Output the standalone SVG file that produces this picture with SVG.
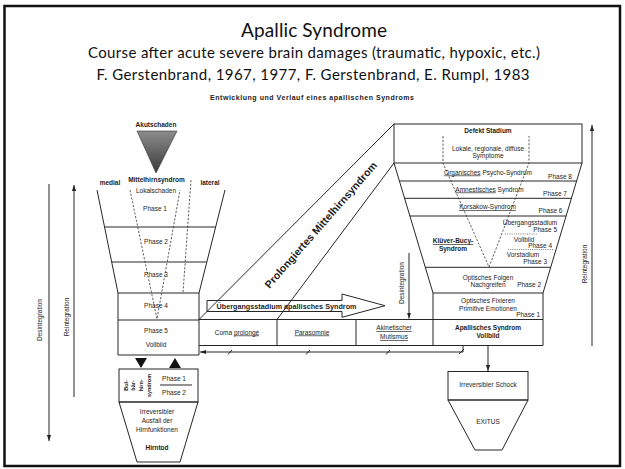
<svg xmlns="http://www.w3.org/2000/svg" width="625" height="469" viewBox="0 0 625 469">
<defs>
<style>
text{font-family:"Liberation Sans",Arial,sans-serif;fill:#1c1c1c;font-size:6.5px;text-anchor:middle}
.hd{font-family:Lato,"Liberation Sans",sans-serif;fill:#111}
.t1{font-size:19px}
.t2{font-size:15px}
.sm{font-size:5.5px}
.b{font-weight:bold}
.e{text-anchor:end}
.ln{stroke:#262626;stroke-width:1;fill:none}
.dsh{stroke:#333;stroke-width:0.8;stroke-dasharray:2.2 1.6;fill:none}
.dot{stroke:#444;stroke-width:0.7;stroke-dasharray:1 1.2;fill:none}
.u{text-decoration:underline}
</style>
<linearGradient id="tri" x1="0" y1="0" x2="0" y2="1">
<stop offset="0" stop-color="#8c8c8c"/><stop offset="1" stop-color="#3a3a3a"/>
</linearGradient>
<marker id="ah" viewBox="0 0 10 10" refX="10" refY="5" markerWidth="6" markerHeight="6" markerUnits="userSpaceOnUse" orient="auto">
<path d="M0,1.5L10,5L0,8.5z" fill="#222"/>
</marker>
</defs>
<rect width="625" height="469" fill="#fff"/>
<g id="frame"><rect x="4.5" y="6" width="615.5" height="460" fill="none" stroke="#111" stroke-width="2.5"/></g>

<g id="title">
<text class="hd t1" x="314" y="37" textLength="146">Apallic Syndrome</text>
<text class="hd t2" x="314" y="58" textLength="452">Course after acute severe brain damages (traumatic, hypoxic, etc.)</text>
<text class="hd t2" x="313" y="80" textLength="433">F. Gerstenbrand, 1967, 1977, F. Gerstenbrand, E. Rumpl, 1983</text>
<text class="b" x="312" y="100" style="font-size:7px" textLength="204">Entwicklung und Verlauf eines apallischen Syndroms</text>
</g>

<g id="left-scale">
<line class="ln" x1="49" y1="184" x2="49" y2="441" marker-end="url(#ah)"/>
<line class="ln" x1="74" y1="397" x2="74" y2="185" marker-end="url(#ah)"/>
<text transform="translate(42.3,320) rotate(-90)">Desintegration</text>
<text transform="translate(69.3,317) rotate(-90)">Reintegration</text>
</g>

<g id="akutschaden">
<text class="b" x="156" y="127">Akutschaden</text>
<polygon points="137,131 177,131 156,173" fill="url(#tri)" stroke="#333" stroke-width="0.6"/>
</g>

<g id="left-funnel">
<polyline class="ln" points="97,190 118,293 118,355 199,355 199,293 225,190"/>
<line class="ln" x1="104.5" y1="227" x2="215.7" y2="227"/>
<line class="ln" x1="111.7" y1="262" x2="206.8" y2="262"/>
<line class="ln" x1="118" y1="293" x2="199" y2="293"/>
<line class="ln" x1="118" y1="320" x2="199" y2="320"/>
<polyline class="dsh" points="130,190 157,319 180,190"/>
<line class="dsh" x1="191" y1="180" x2="183" y2="293"/>
<text class="b" x="156.5" y="181.5">Mittelhirnsyndrom</text>
<text class="b" x="110" y="185">medial</text>
<text class="b" x="210" y="185">lateral</text>
<text x="156" y="193">Lokalschaden</text>
<text x="155" y="210.5">Phase 1</text>
<text x="156" y="244">Phase 2</text>
<text x="156" y="277">Phase 3</text>
<text x="156" y="308">Phase 4</text>
<text x="156" y="332.5">Phase 5</text>
<text x="156" y="347">Vollbild</text>
</g>

<g id="transition-arrows">
<polygon points="135,358 147,358 141,368" fill="#111"/>
<polygon points="169,368 181,368 175,358" fill="#111"/>
</g>

<g id="bulbaerhirnsyndrom">
<rect class="ln" x="119" y="369" width="79" height="33"/>
<text class="b sm" transform="translate(127.5,385.5) rotate(-90)">Bul-</text>
<text class="b sm" transform="translate(134.5,385.5) rotate(-90)">bär-</text>
<text class="b sm" transform="translate(143,385.5) rotate(-90)">hirn-</text>
<text class="b sm" transform="translate(150.5,385.5) rotate(-90)">syndrom</text>
<text x="174" y="381">Phase 1</text>
<line class="ln" x1="160" y1="385" x2="192" y2="385" stroke-width="0.7"/>
<text x="174" y="395">Phase 2</text>
</g>

<g id="hirntod">
<polygon class="ln" points="119,402 198,402 180,462 137,462"/>
<text x="157" y="414">Irreversibler</text>
<text x="157" y="422.5">Ausfall der</text>
<text x="157" y="432">Hirnfunktionen</text>
<text class="b" x="157" y="449.5">Hirntod</text>
</g>

<g id="prolongiertes-mittelhirnsyndrom">
<line class="ln" x1="199" y1="319.5" x2="394" y2="124"/>
<line class="ln" x1="277" y1="319.5" x2="394" y2="163"/>
<text class="b" style="font-size:10.5px" textLength="164" transform="translate(323.6,227.3) rotate(-48.7)">Prolongiertes Mittelhirnsyndrom</text>
</g>

<g id="uebergangsstadium">
<polygon class="ln" stroke-width="0.9" points="207,300.5 342,300.5 342,294 385,305.7 342,317.3 342,311.5 207,311.5"/>
<text class="b" x="286.5" y="308.5" style="font-size:7.2px" textLength="140">Übergangsstadium apallisches Syndrom</text>
</g>

<g id="stage-band">
<line class="ln" x1="199" y1="319.5" x2="543" y2="319.5"/>
<line class="ln" x1="199" y1="345.5" x2="543" y2="345.5"/>
<line class="ln" x1="277" y1="319.5" x2="277" y2="345.5"/>
<line class="ln" x1="356" y1="319.5" x2="356" y2="345.5"/>
<text x="237" y="334.5">Coma <tspan class="u">prolongé</tspan></text>
<text class="u" x="312" y="334.5">Parasomnie</text>
<text class="u" x="394" y="330">Akinetischer</text>
<text class="u" x="394" y="339">Mutismus</text>
</g>

<g id="defekt-stadium">
<rect class="ln" x="394" y="124" width="188" height="39"/>
<text class="b" x="488" y="133">Defekt Stadium</text>
<text x="488" y="150.5">Lokale, regionale, diffuse</text>
<text x="488" y="158">Symptome</text>
</g>

<g id="right-funnel">
<polyline class="ln" points="394,163 433,293 433,345.5"/>
<polyline class="ln" points="582,163 543,293 543,345.5"/>
<line class="ln" x1="399.4" y1="181" x2="576.6" y2="181"/>
<line class="ln" x1="404.6" y1="198.3" x2="571.4" y2="198.3"/>
<line class="ln" x1="409.9" y1="216" x2="566.1" y2="216"/>
<line class="ln" x1="425.3" y1="267.3" x2="550.7" y2="267.3"/>
<line class="ln" x1="433" y1="293" x2="543" y2="293"/>
<polyline class="dsh" points="443,136 443,163 489,267 529,163 529,136"/>
<line class="dot" x1="505" y1="234" x2="538" y2="234"/>
<line class="dot" x1="508" y1="249.5" x2="553" y2="249.5"/>
<text x="488" y="174.5"><tspan class="u">Organisches</tspan> Psycho-Syndrom</text>
<text x="560" y="178.5">Phase 8</text>
<text x="489.5" y="191.5"><tspan class="u">Amnestisches</tspan> Syndrom</text>
<text x="555" y="195.5">Phase 7</text>
<text class="u" x="487.5" y="209">Korsakow-Syndrom</text>
<text x="550.5" y="212.5">Phase 6</text>
<text x="530" y="225">Übergangsstadium</text>
<text class="e" x="557" y="232">Phase 5</text>
<text x="524" y="241.5">Vollbild</text>
<text class="e" x="552" y="247.5">Phase 4</text>
<text x="523" y="257.3">Vorstadium</text>
<text class="e" x="547" y="264">Phase 3</text>
<text class="b u" x="453" y="243">Klüver-Bucy-</text>
<text class="b" x="453" y="250.5">Syndrom</text>
<text x="488" y="280">Optisches Folgen</text>
<text x="488" y="287.3">Nachgreifen</text>
<text class="e" x="541" y="287.3">Phase 2</text>
<text x="488" y="303">Optisches Fixieren</text>
<text x="488" y="311.3">Primitive Emotionen</text>
<text class="e" x="540" y="317.3">Phase 1</text>
</g>

<g id="apallisches-syndrom-vollbild">
<text class="b" x="488" y="330">Apallisches Syndrom</text>
<text class="b" x="488" y="337.5">Vollbild</text>
</g>

<g id="right-scale">
<line class="ln" x1="592" y1="346" x2="592" y2="125" marker-end="url(#ah)"/>
<text transform="translate(587.3,264) rotate(-90)">Reintegration</text>
<line class="ln" x1="409" y1="253" x2="409" y2="318.5" marker-end="url(#ah)"/>
<text transform="translate(403.8,283) rotate(-90)">Desintegration</text>
</g>

<g id="schock">
<rect class="ln" x="448" y="371.5" width="80" height="28.5"/>
<text x="488" y="386.5">Irreversibler Schock</text>
</g>

<g id="exitus">
<polygon class="ln" points="448,400 528,400 502,450 475,450"/>
<text x="488" y="423.5">EXITUS</text>
</g>

<g id="connectors">
<polyline class="ln" points="463,345.5 463,352 200,352" marker-end="url(#ah)"/>
<path class="ln" stroke-width="0.9" d="M228,354.5L232,350 M306,354.5L310,350 M386,354.5L390,350 M459,354L464,349"/>
<line class="ln" x1="488" y1="345.5" x2="488" y2="371" marker-end="url(#ah)"/>
</g>
</svg>
